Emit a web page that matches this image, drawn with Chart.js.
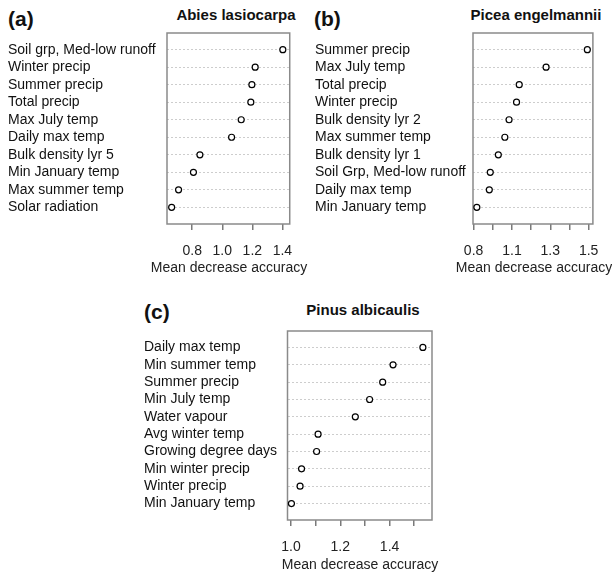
<!DOCTYPE html>
<html>
<head>
<meta charset="utf-8">
<script src="https://cdn.jsdelivr.net/npm/chart.js@4.4.1/dist/chart.umd.min.js"></script>
<style>
  body { margin: 0; background: #fff; width: 612px; height: 577px; position: relative; overflow: hidden;
         font-family: 'Liberation Sans', Arial, sans-serif; color: #111; }
  canvas { position: absolute; }
  .tag { position: absolute; font-weight: bold; font-size: 21px; line-height: 21px; }
  .sp { position: absolute; width: 200px; text-align: center; font-weight: bold; font-size: 15px; line-height: 15px; }
  .xt { position: absolute; width: 170px; text-align: center; font-size: 14px; line-height: 14px; color: #222; }
</style>
</head>
<body>
<div class="tag" style="left:8px;top:8px">(a)</div>
<div class="sp" style="left:136px;top:7px">Abies lasiocarpa</div>
<div class="tag" style="left:314px;top:8px">(b)</div>
<div class="sp" style="left:436px;top:7px">Picea engelmannii</div>
<div class="tag" style="left:144px;top:301px">(c)</div>
<div class="sp" style="left:263px;top:302px">Pinus albicaulis</div>

<canvas id="chartA" width="306" height="285" style="left:0;top:0"></canvas>
<canvas id="chartB" width="306" height="285" style="left:306px;top:0"></canvas>
<canvas id="chartC" width="320" height="287" style="left:130px;top:290px"></canvas>

<div class="xt" style="left:144px;top:260px">Mean decrease accuracy</div>
<div class="xt" style="left:449px;top:260px">Mean decrease accuracy</div>
<div class="xt" style="left:275px;top:557px">Mean decrease accuracy</div>

<script>
// (a) Abies lasiocarpa
const labelsA = ['Soil grp, Med-low runoff', 'Winter precip', 'Summer precip', 'Total precip', 'Max July temp',
  'Daily max temp', 'Bulk density lyr 5', 'Min January temp', 'Max summer temp', 'Solar radiation'];
const valuesA = [1.403, 1.219, 1.197, 1.190, 1.126, 1.062, 0.851, 0.808, 0.709, 0.663];
const ticksA = [0.8, 1.0, 1.2, 1.4];
const tickTextA = ['0.8', '1.0', '1.2', '1.4'];

// (b) Picea engelmannii
const labelsB = ['Summer precip', 'Max July temp', 'Total precip', 'Winter precip', 'Bulk density lyr 2',
  'Max summer temp', 'Bulk density lyr 1', 'Soil Grp, Med-low runoff', 'Daily max temp', 'Min January temp'];
const valuesB = [1.493, 1.278, 1.138, 1.124, 1.085, 1.063, 1.029, 0.987, 0.982, 0.917];
const ticksB = [0.9, 1.0, 1.1, 1.2, 1.3, 1.4, 1.5];
const tickTextB = ['0.8', '', '1.1', '', '1.3', '', '1.5'];

// (c) Pinus albicaulis
const labelsC = ['Daily max temp', 'Min summer temp', 'Summer precip', 'Min July temp', 'Water vapour',
  'Avg winter temp', 'Growing degree days', 'Min winter precip', 'Winter precip', 'Min January temp'];
const valuesC = [1.535, 1.414, 1.372, 1.319, 1.261, 1.110, 1.104, 1.043, 1.037, 1.002];
const ticksC = [1.0, 1.1, 1.2, 1.3, 1.4, 1.5];
const tickTextC = ['1.0', '', '1.2', '', '1.4', ''];

Chart.defaults.font.family = "'Liberation Sans', Arial, sans-serif";
Chart.defaults.font.size = 14;

// grey box round the plot area
const frame = {
  id: 'frame',
  beforeDatasetsDraw(chart) {
    const { ctx, chartArea: a } = chart;
    ctx.save();
    ctx.strokeStyle = '#8a8a8a';
    ctx.lineWidth = 1.5;
    ctx.strokeRect(a.left, a.top, a.width, a.height);
    ctx.restore();
  }
};

function makePanel(id, labels, values, ticks, tickText, range, box) {
  const ctx = document.getElementById(id).getContext('2d');
  new Chart(ctx, {
    type: 'scatter',
    data: {
      datasets: [{
        data: values.map((v, i) => ({ x: v, y: i })),
        pointRadius: 3,
        pointBorderWidth: 1.2,
        pointBorderColor: '#000',
        pointBackgroundColor: '#fff',
        clip: false,
      }],
    },
    options: {
      responsive: false,
      animation: false,
      layout: { padding: box.pad },
      plugins: { legend: { display: false }, tooltip: { enabled: false } },
      scales: {
        x: {
          type: 'linear',
          min: range[0],
          max: range[1],
          afterBuildTicks: (s) => { s.ticks = ticks.map((v) => ({ value: v })); },
          afterFit: (s) => { s.height = box.xh; },
          border: { display: false },
          grid: { drawOnChartArea: false, tickLength: 6, color: '#7a7a7a', lineWidth: 1.5 },
          ticks: { padding: box.tp, color: '#222', autoSkip: false, maxRotation: 0,
                   font: { size: 14 }, callback: (v, i) => tickText[i] },
        },
        y: {
          type: 'linear',
          reverse: true,
          min: -0.95,
          max: 9.95,
          afterBuildTicks: (s) => { s.ticks = labels.map((_, i) => ({ value: i })); },
          afterFit: (s) => { s.width = box.yw; },
          border: { display: false, dash: [2, 2] },
          grid: { color: '#cdcdcd', lineWidth: 1, drawTicks: false, tickLength: 0 },
          ticks: { crossAlign: 'far', padding: 0, color: '#111', autoSkip: false,
                   font: { size: 14 }, callback: (v, i) => labels[i] },
        },
      },
    },
    plugins: [frame],
  });
}

makePanel('chartA', labelsA, valuesA, ticksA, tickTextA, [0.632, 1.449],
  { pad: { left: 8, top: 33, right: 15, bottom: 0 }, yw: 159, xh: 61, tp: 13 });
makePanel('chartB', labelsB, valuesB, ticksB, tickTextB, [0.897, 1.522],
  { pad: { left: 9, top: 33, right: 17, bottom: 0 }, yw: 158, xh: 61, tp: 13 });
makePanel('chartC', labelsC, valuesC, ticksC, tickTextC, [0.986, 1.572],
  { pad: { left: 14, top: 41, right: 18, bottom: 0 }, yw: 143.5, xh: 57, tp: 13 });
</script>
</body>
</html>
